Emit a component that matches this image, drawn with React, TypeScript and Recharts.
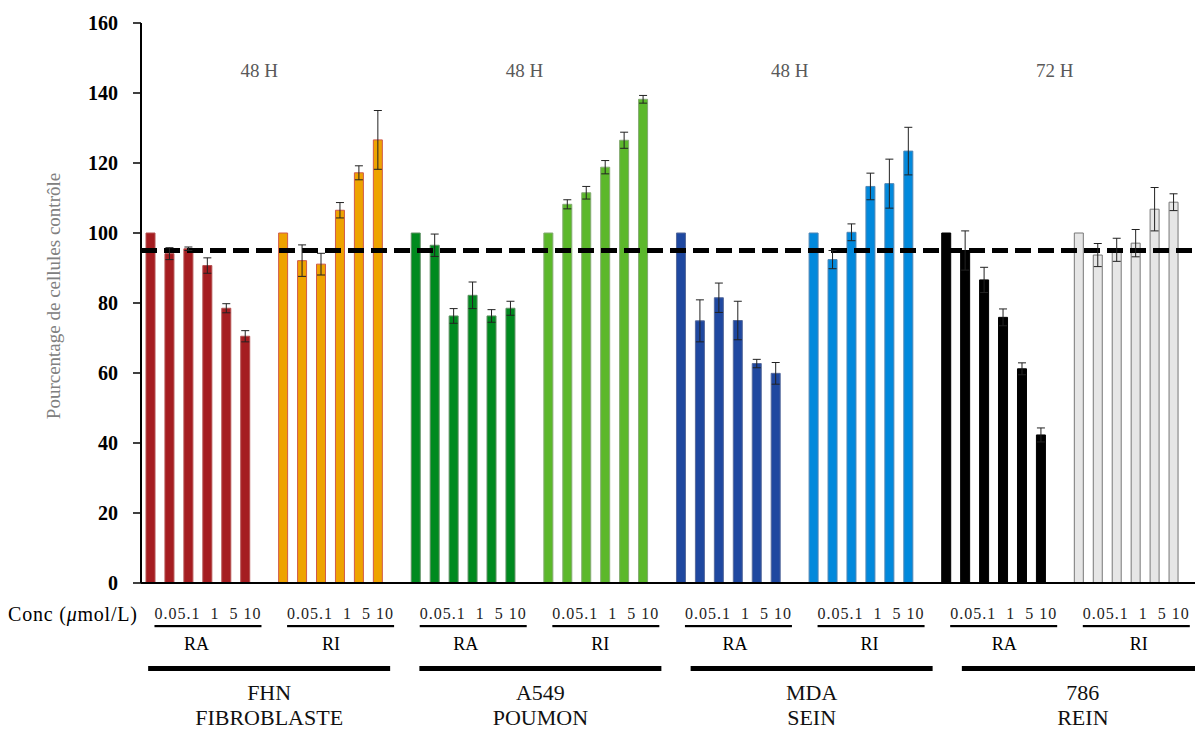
import React from 'react';
import { BarChart, Bar, Cell, XAxis, YAxis, ErrorBar, ReferenceLine } from 'recharts';

// labels
const cellLines = ['FHN', 'A549', 'MDA', '786'];
const tissues = ['FIBROBLASTE', 'POUMON', 'SEIN', 'REIN'];
const durations = ['48 H', '48 H', '48 H', '72 H'];
const treatments = ['RA', 'RI'];
const concentrations = ['0', '0.05', '0.1', '1', '5', '10'];
const concLabel = '0.05.1  1  5 10';
const yTicks = [0, 20, 40, 60, 80, 100, 120, 140, 160];

// % of control cells, one array per cell line / treatment
const fhnRA = [100, 94.1, 95.5, 90.7, 78.5, 70.5];
const fhnRAErr = [0, 1.7, 0.5, 2.2, 1.3, 1.6];
const fhnRI = [100, 92.1, 91.1, 106.5, 117.2, 126.6];
const fhnRIErr = [0, 4.5, 3.1, 2.2, 2.0, 8.4];

const a549RA = [100, 96.5, 76.3, 82.2, 76.3, 78.5];
const a549RAErr = [0, 3.2, 2.1, 3.8, 1.8, 2.0];
const a549RI = [100, 108.2, 111.5, 118.8, 126.5, 138.2];
const a549RIErr = [0, 1.3, 1.8, 1.9, 2.3, 1.1];

const mdaRA = [100, 74.9, 81.5, 75.0, 62.7, 59.9];
const mdaRAErr = [0, 6.0, 4.2, 5.5, 1.2, 3.1];
const mdaRI = [100, 92.4, 100.2, 113.3, 114.1, 123.4];
const mdaRIErr = [0, 2.6, 2.4, 3.8, 7.0, 6.8];

const r786RA = [100, 95.0, 86.6, 75.9, 61.2, 42.3];
const r786RAErr = [0, 5.6, 3.6, 2.4, 1.7, 2.0];
const r786RI = [100, 93.7, 95.2, 97.1, 106.8, 108.8];
const r786RIErr = [0, 3.3, 3.3, 3.9, 6.2, 2.4];

const CONTROL_LINE = 95;

const values = [
  [fhnRA, fhnRI],
  [a549RA, a549RI],
  [mdaRA, mdaRI],
  [r786RA, r786RI],
];
const errors = [
  [fhnRAErr, fhnRIErr],
  [a549RAErr, a549RIErr],
  [mdaRAErr, mdaRIErr],
  [r786RAErr, r786RIErr],
];

const fills = [
  ['#a51d21', '#eea300'],
  ['#008a1f', '#5cb82b'],
  ['#1f48a0', '#0289dc'],
  ['#000000', '#e6e6e6'],
];
const strokes = [
  ['#b45050', '#cf5a4a'],
  ['#5f8f63', '#84aa72'],
  ['#55699b', '#4f86b5'],
  ['#000000', '#777777'],
];

type Row = {
  slot: string;
  value: number | null;
  err: number | null;
  c: number;
  t: number;
  j: number;
  gap?: boolean;
};

const data: Row[] = [];
cellLines.forEach((cell, c) => {
  treatments.forEach((tr, t) => {
    concentrations.forEach((conc, j) => {
      data.push({ slot: `${cell}-${tr}-${conc}`, value: values[c][t][j], err: errors[c][t][j], c, t, j });
    });
    if (!(c === cellLines.length - 1 && t === treatments.length - 1)) {
      data.push({ slot: `gap-${cell}-${tr}`, value: null, err: null, c, t, j: -1, gap: true });
    }
  });
});
const bySlot = new Map(data.map((d) => [d.slot, d]));

const serif = "'Liberation Serif', 'DejaVu Serif', serif";

function AxisTick(props: any) {
  const { x, payload } = props;
  const row = bySlot.get(payload.value);
  if (!row) return null;
  const g = row.c * 2 + row.t;

  if (!row.gap && row.j === 0) {
    return (
      <g>
        {g === 0 && (
          <text x={8} y={621} fontSize={20} fill="#000" fontFamily={serif} textLength={129} lengthAdjust="spacing">
            Conc (<tspan fontStyle="italic">μ</tspan>mol/L)
          </text>
        )}
        <text
          x={x + 4}
          y={619}
          fontSize={16}
          fill="#222"
          fontFamily={serif}
          textLength={106}
          lengthAdjust="spacing"
          style={{ whiteSpace: 'pre' }}
        >
          {concLabel}
        </text>
        <rect x={x + 4} y={625} width={107} height={2.2} fill="#000" />
        <text x={x + 46 + 2 * g} y={650} fontSize={18} fill="#000" textAnchor="middle" fontFamily={serif}>
          {treatments[row.t]}
        </text>
      </g>
    );
  }

  if (row.gap && row.t === 0) {
    const cx = x + 5 + 6 * row.c;
    return (
      <g>
        <text x={x - 5} y={77} fontSize={19} fill="#595959" textAnchor="middle" fontFamily={serif}>
          {durations[row.c]}
        </text>
        <rect x={cx - 121} y={666} width={242} height={5} fill="#000" />
        <text x={cx} y={700} fontSize={22} fill="#111" textAnchor="middle" fontFamily={serif}>
          {cellLines[row.c]}
        </text>
        <text x={cx} y={725} fontSize={22} fill="#111" textAnchor="middle" fontFamily={serif}>
          {tissues[row.c]}
        </text>
      </g>
    );
  }
  return null;
}

export default function App() {
  return (
    <div style={{ position: 'absolute', left: 0, top: 0, width: 1195, height: 731, background: '#fff', fontFamily: serif }}>
      <BarChart width={1195} height={731} data={data} margin={{ top: 23, right: 0, bottom: 0, left: 0 }} barCategoryGap={0}>
        <YAxis
          width={141}
          domain={[0, 160]}
          ticks={yTicks}
          interval={0}
          tickSize={8}
          tickMargin={15}
          axisLine={{ stroke: '#000', strokeWidth: 2 }}
          tickLine={{ stroke: '#000', strokeWidth: 1.5 }}
          tick={{ fontSize: 20, fontWeight: 700, fill: '#000', fontFamily: serif }}
          label={{
            content: () => (
              <text
                transform="translate(60,296) rotate(-90)"
                textAnchor="middle"
                fontSize={19}
                fill="#808080"
                fontFamily={serif}
              >
                Pourcentage de cellules contrôle
              </text>
            ),
          }}
        />
        <XAxis
          dataKey="slot"
          height={148}
          interval={0}
          padding={{ left: 0, right: 12 }}
          tickLine={false}
          axisLine={{ stroke: '#000', strokeWidth: 2 }}
          tick={<AxisTick />}
        />
        <ReferenceLine y={CONTROL_LINE} stroke="#000" strokeWidth={5} strokeDasharray="16 7" ifOverflow="extendDomain" />
        <Bar dataKey="value" barSize={9} isAnimationActive={false} strokeWidth={1}>
          {data.map((d) => (
            <Cell key={d.slot} fill={d.gap ? 'none' : fills[d.c][d.t]} stroke={d.gap ? 'none' : strokes[d.c][d.t]} />
          ))}
          <ErrorBar dataKey="err" width={4} stroke="#222" strokeWidth={1} direction="y" isAnimationActive={false} />
        </Bar>
      </BarChart>
    </div>
  );
}
